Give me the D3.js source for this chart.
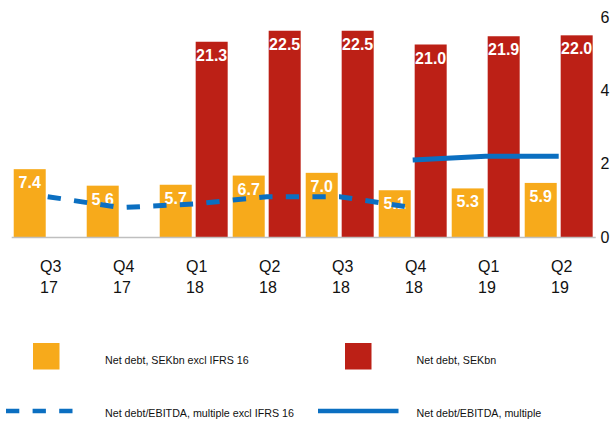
<!DOCTYPE html>
<html>
<head>
<meta charset="utf-8">
<script src="https://cdn.jsdelivr.net/npm/d3@7"></script>
<style>
  html, body { margin: 0; padding: 0; background: #fff; }
  svg { display: block; font-family: "Liberation Sans", Arial, sans-serif; }
</style>
</head>
<body>
<div id="chart"></div>
<script>
// ---- data ----
const quarters = ["Q3", "Q4", "Q1", "Q2", "Q3", "Q4", "Q1", "Q2"];
const years    = ["17", "17", "18", "18", "18", "18", "19", "19"];
const categories = quarters.map((q, i) => q + " " + years[i]);
const netDebtExclIFRS = [7.4, 5.6, 5.7, 6.7, 7.0, 5.1, 5.3, 5.9];
const netDebt         = [null, null, 21.3, 22.5, 22.5, 21.0, 21.9, 22.0];
const multipleExclIFRS = [1.1, 0.8, 0.9, 1.1, 1.1, 0.8, null, null];
const multiple         = [null, null, null, null, null, 2.1, 2.2, 2.2];
const rightTicks = [0, 2, 4, 6];
const legendLabels = [
  "Net debt, SEKbn excl IFRS 16",
  "Net debt, SEKbn",
  "Net debt/EBITDA, multiple excl IFRS 16",
  "Net debt/EBITDA, multiple"
];

const W = 610, H = 421;
const colYellow = "#F7AA1B", colRed = "#BC2016", colBlue = "#0B6FC1";

const svg = d3.select("#chart").append("svg").attr("width", W).attr("height", H);

const x = d3.scaleBand().domain(categories).range([11.2, 595.2]).padding(0);
const sub = d3.scaleBand().domain(["excl", "incl"]).range([0, x.bandwidth()])
  .paddingInner(0.11).paddingOuter(0.07);
const yL = d3.scaleLinear().domain([0, 24]).range([237, 17]);
const yR = d3.scaleLinear().domain([0, 6]).range([237, 17]);

const rows = categories.map((c, i) => ({
  cat: c, excl: netDebtExclIFRS[i], incl: netDebt[i],
  mEx: multipleExclIFRS[i], m: multiple[i]
}));

// bars
const bars = [];
rows.forEach(r => {
  if (r.excl != null) bars.push({ cat: r.cat, key: "excl", v: r.excl, color: colYellow });
  if (r.incl != null) bars.push({ cat: r.cat, key: "incl", v: r.incl, color: colRed });
});
svg.append("g").selectAll("rect").data(bars).join("rect")
  .attr("x", d => x(d.cat) + sub(d.key))
  .attr("width", sub.bandwidth())
  .attr("y", d => yL(d.v))
  .attr("height", d => yL(0) - yL(d.v))
  .attr("fill", d => d.color);

// value labels
svg.append("g").selectAll("text").data(bars).join("text")
  .attr("x", d => x(d.cat) + sub(d.key) + sub.bandwidth() / 2)
  .attr("y", d => yL(d.v) + 19)
  .attr("text-anchor", "middle")
  .attr("fill", "#fff")
  .attr("font-weight", "bold")
  .attr("font-size", "16px")
  .text(d => d.v.toFixed(1));

// baseline axis
const xAxis = svg.append("g").attr("transform", `translate(0,${yL(0)})`)
  .call(d3.axisBottom(x).tickSize(0).tickSizeOuter(0).tickFormat(""));
xAxis.select(".domain").attr("stroke", "#BFBFBF").attr("stroke-width", 1.5);

// category labels
const catG = svg.append("g");
categories.forEach((c, i) => {
  const cx = x(c) + x.bandwidth() / 2 - 7.6;
  catG.append("text").attr("x", cx).attr("y", 272).attr("font-size", "16px").attr("fill", "#111").text(quarters[i]);
  catG.append("text").attr("x", cx).attr("y", 293).attr("font-size", "16px").attr("fill", "#111").text(years[i]);
});

// right axis
const rAxis = svg.append("g").attr("transform", "translate(600.5,0)")
  .call(d3.axisRight(yR).tickValues(rightTicks).tickFormat(d3.format("d")).tickSize(0).tickPadding(0));
rAxis.select(".domain").remove();
rAxis.selectAll("text").attr("font-size", "16px").attr("fill", "#111")
  .attr("font-family", "Liberation Sans, Arial, sans-serif");

// lines
const lineEx = d3.line()
  .defined(d => d.mEx != null)
  .x(d => x(d.cat) + x.bandwidth() / 2)
  .y(d => yR(d.mEx));
const lineM = d3.line()
  .defined(d => d.m != null)
  .x(d => x(d.cat) + x.bandwidth() / 2)
  .y(d => yR(d.m));
svg.append("path").datum(rows).attr("d", lineEx)
  .attr("fill", "none").attr("stroke", colBlue).attr("stroke-width", 5)
  .attr("stroke-dasharray", "13.3,13.3");
svg.append("path").datum(rows).attr("d", lineM)
  .attr("fill", "none").attr("stroke", colBlue).attr("stroke-width", 5);

// legend
const lg = svg.append("g").attr("font-size", "10.7px").attr("fill", "#111");
lg.append("rect").attr("x", 33).attr("y", 343).attr("width", 26.5).attr("height", 26.5).attr("fill", colYellow);
lg.append("rect").attr("x", 345).attr("y", 343).attr("width", 26.5).attr("height", 26.5).attr("fill", colRed);
lg.append("line").attr("x1", 6).attr("x2", 73).attr("y1", 411).attr("y2", 411)
  .attr("stroke", colBlue).attr("stroke-width", 4.5).attr("stroke-dasharray", "13.3,13.3");
lg.append("line").attr("x1", 318).attr("x2", 398.5).attr("y1", 411).attr("y2", 411)
  .attr("stroke", colBlue).attr("stroke-width", 4.5);
lg.append("text").attr("x", 105).attr("y", 363.5).text(legendLabels[0]);
lg.append("text").attr("x", 416.5).attr("y", 363.5).text(legendLabels[1]);
lg.append("text").attr("x", 105).attr("y", 417).text(legendLabels[2]);
lg.append("text").attr("x", 416.5).attr("y", 417).text(legendLabels[3]);
</script>
</body>
</html>
